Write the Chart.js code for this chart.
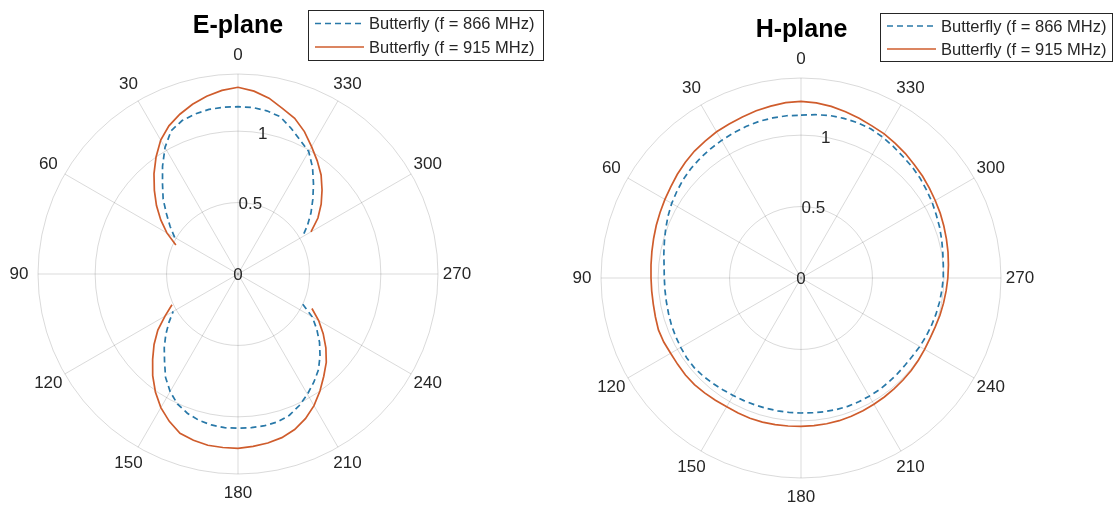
<!DOCTYPE html>
<html>
<head>
<meta charset="utf-8">
<script src="https://cdn.jsdelivr.net/npm/chart.js@4.4.0/dist/chart.umd.min.js"></script>
<style>
  html, body { margin: 0; padding: 0; background: #fff; }
  #wrap { position: relative; width: 1115px; height: 510px; }
  .panel { position: absolute; top: 0; height: 510px; }
</style>
</head>
<body>
<div id="wrap">
  <div class="panel" style="left:0;width:557px"><canvas id="ePlane"></canvas></div>
  <div class="panel" style="left:557px;width:558px"><canvas id="hPlane"></canvas></div>
</div>
<script>
// angle in degrees (counter-clockwise from the top), one value every 5 degrees
var angles = [0, 5, 10, 15, 20, 25, 30, 35, 40, 45, 50, 55,
  60, 65, 70, 75, 80, 85, 90, 95, 100, 105, 110, 115,
  120, 125, 130, 135, 140, 145, 150, 155, 160, 165, 170, 175,
  180, 185, 190, 195, 200, 205, 210, 215, 220, 225, 230, 235,
  240, 245, 250, 255, 260, 265, 270, 275, 280, 285, 290, 295,
  300, 305, 310, 315, 320, 325, 330, 335, 340, 345, 350, 355];

var seriesNames = ["Butterfly (f = 866 MHz)", "Butterfly (f = 915 MHz)"];
var rTicks = [0, 0.5, 1];

// E-plane
var e866 = [1.171, 1.172, 1.170, 1.160, 1.143, 1.107, 1.022, 0.921, 0.822, 0.741, 0.653, 0.580,
  0.512, null, null, null, null, null, null, null, null, null, null, null,
  0.524, 0.590, 0.660, 0.730, 0.800, 0.884, 0.950, 1.004, 1.037, 1.060, 1.073, 1.080,
  1.080, 1.080, 1.078, 1.072, 1.052, 1.016, 0.972, 0.925, 0.876, 0.812, 0.745, 0.673,
  0.600, 0.500, null, null, null, null, null, null, null, null, null, null,
  0.522, 0.594, 0.667, 0.741, 0.822, 0.910, 0.990, 1.032, 1.086, 1.140, 1.160, 1.170];
var e915 = [1.307, 1.290, 1.263, 1.230, 1.190, 1.144, 1.082, 1.000, 0.915, 0.828, 0.745, 0.660,
  0.575, 0.480, null, null, null, null, null, null, null, null, null, 0.510,
  0.590, 0.685, 0.767, 0.845, 0.929, 1.008, 1.080, 1.138, 1.187, 1.205, 1.217, 1.219,
  1.220, 1.211, 1.201, 1.186, 1.159, 1.117, 1.064, 1.000, 0.934, 0.874, 0.803, 0.728,
  0.652, 0.571, null, null, null, null, null, null, null, null, null, null,
  0.590, 0.683, 0.760, 0.832, 0.905, 0.967, 1.030, 1.100, 1.160, 1.200, 1.250, 1.285];

// H-plane
var h866 = [1.140, 1.140, 1.138, 1.135, 1.128, 1.120, 1.112, 1.104, 1.096, 1.087, 1.075, 1.060,
  1.045, 1.027, 1.008, 0.990, 0.975, 0.962, 0.957, 0.956, 0.957, 0.960, 0.965, 0.968,
  0.972, 0.976, 0.976, 0.970, 0.962, 0.955, 0.950, 0.947, 0.945, 0.944, 0.944, 0.945,
  0.945, 0.947, 0.950, 0.954, 0.956, 0.956, 0.955, 0.955, 0.953, 0.951, 0.950, 0.953,
  0.960, 0.966, 0.972, 0.978, 0.984, 0.990, 0.996, 1.000, 1.008, 1.020, 1.033, 1.045,
  1.060, 1.073, 1.088, 1.100, 1.110, 1.125, 1.140, 1.153, 1.157, 1.157, 1.155, 1.148];
var h915 = [1.237, 1.232, 1.222, 1.212, 1.200, 1.190, 1.182, 1.170, 1.160, 1.145, 1.130, 1.113,
  1.100, 1.088, 1.078, 1.068, 1.060, 1.054, 1.050, 1.049, 1.050, 1.055, 1.062, 1.060,
  1.054, 1.054, 1.056, 1.055, 1.050, 1.045, 1.040, 1.042, 1.045, 1.044, 1.042, 1.040,
  1.038, 1.037, 1.036, 1.034, 1.030, 1.026, 1.021, 1.017, 1.013, 1.010, 1.007, 1.003,
  0.999, 0.997, 1.000, 1.007, 1.013, 1.020, 1.028, 1.036, 1.045, 1.054, 1.064, 1.075,
  1.085, 1.097, 1.110, 1.122, 1.137, 1.150, 1.165, 1.175, 1.190, 1.205, 1.220, 1.230];

var FONT = '"Liberation Sans", Arial, Helvetica, sans-serif';
var TEXT = '#262626';
var GRID = 'rgba(38,38,38,0.17)';
Chart.defaults.font.family = FONT;

// radar runs clockwise from the top, the angles run counter-clockwise
function clockwise(list) {
  return angles.map(function (a, i) {
    return list[((360 - i * 5) % 360) / 5];
  });
}

// angle labels, r tick labels and a boxed legend
var polarDecor = {
  id: 'polarDecor',
  afterDraw: function (chart, args, opts) {
    var ctx = chart.ctx, r = chart.scales.r;
    ctx.save();
    ctx.fillStyle = TEXT;
    ctx.textAlign = 'center';
    ctx.textBaseline = 'middle';
    ctx.font = '17px ' + FONT;
    chart.data.labels.forEach(function (lab, i) {
      if (Number(lab) % 30 !== 0) return;
      var p = r.getPointPosition(i, r.drawingArea + 19);
      ctx.fillText(lab, p.x, p.y);
    });
    var tilt = 10 * Math.PI / 180;
    rTicks.forEach(function (v) {
      var d = r.getDistanceFromCenterForValue(v);
      ctx.fillText(String(v), r.xCenter + d * Math.sin(tilt), r.yCenter - d * Math.cos(tilt) + 1);
    });

    var b = opts.box;
    ctx.fillStyle = '#fff';
    ctx.fillRect(b.x, b.y, b.w, b.h);
    ctx.lineWidth = 1;
    ctx.strokeStyle = TEXT;
    ctx.strokeRect(b.x + 0.5, b.y + 0.5, b.w, b.h);
    ctx.font = '16.5px ' + FONT;
    ctx.textAlign = 'left';
    chart.data.datasets.forEach(function (ds, k) {
      var y = b.y + opts.rows[k];
      ctx.beginPath();
      ctx.setLineDash(ds.borderDash || []);
      ctx.strokeStyle = ds.borderColor;
      ctx.lineWidth = ds.borderWidth;
      ctx.moveTo(b.x + 7, y);
      ctx.lineTo(b.x + 56, y);
      ctx.stroke();
      ctx.setLineDash([]);
      ctx.fillStyle = TEXT;
      ctx.fillText(ds.label, b.x + 61, y + 1);
    });
    ctx.restore();
  }
};

function makePolar(id, title, d866, d915, pad, box) {
  return new Chart(document.getElementById(id), {
    type: 'radar',
    data: {
      labels: clockwise(angles).map(String),
      datasets: [{
        label: seriesNames[0],
        data: clockwise(d866),
        borderColor: '#2878a8',
        borderWidth: 1.7,
        borderDash: [6, 4],
        pointRadius: 0,
        fill: false,
        spanGaps: false,
        tension: 0
      }, {
        label: seriesNames[1],
        data: clockwise(d915),
        borderColor: '#cf5c2c',
        borderWidth: 1.7,
        pointRadius: 0,
        fill: false,
        spanGaps: false,
        tension: 0
      }]
    },
    options: {
      responsive: true,
      maintainAspectRatio: false,
      animation: false,
      layout: { padding: pad },
      scales: {
        r: {
          min: 0,
          max: 1.4,
          startAngle: 0,
          ticks: { display: false, stepSize: 0.5 },
          grid: { circular: true, color: GRID, lineWidth: 1 },
          angleLines: {
            color: GRID,
            lineWidth: function (c) { return Number(c.label) % 30 === 0 ? 1 : 0; }
          },
          pointLabels: { display: false }
        }
      },
      plugins: {
        legend: { display: false },
        tooltip: { enabled: false },
        title: {
          display: true,
          text: title,
          color: '#000',
          font: { size: 25, weight: 'bold' },
          padding: { top: 11, bottom: 33 }
        },
        polarDecor: box
      }
    },
    plugins: [polarDecor]
  });
}

makePolar('ePlane', 'E-plane', e866, e915,
  { top: 0, left: 0, right: 81, bottom: 35 },
  { box: { x: 308, y: 10, w: 235, h: 50 }, rows: [13.5, 37] });
makePolar('hPlane', 'H-plane', h866, h915,
  { top: 4, left: 0, right: 69, bottom: 31 },
  { box: { x: 323, y: 13, w: 232, h: 48 }, rows: [13, 36] });
</script>
</body>
</html>
